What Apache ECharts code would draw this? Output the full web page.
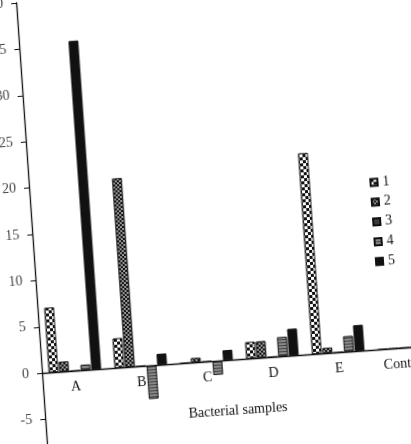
<!DOCTYPE html>
<html>
<head>
<meta charset="utf-8">
<script src="https://cdn.jsdelivr.net/npm/echarts@6/dist/echarts.min.js"></script>
<style>
html,body{margin:0;padding:0;width:411px;height:444px;overflow:hidden;background:#fff;}
#chart{position:absolute;left:-40px;top:-40px;width:520px;height:560px;
transform-origin:82px 413px;transform:rotate(-4deg);}
</style>
</head>
<body>
<div id="chart"></div>
<script>
const categories = ['A', 'B', 'C', 'D', 'E', 'Control'];
const seriesNames = ['1', '2', '3', '4', '5'];
const s1 = [7.0, 3.2, 0, 1.8, 21.7, 0];
const s2 = [1.1, 20.4, 0.5, 1.8, 0.6, 0];
const s3 = [0, 0, 0, 0, 0, 0];
const s4 = [0.6, -3.6, -1.5, 2.1, 1.7, 0];
const s5 = [35.5, 1.2, 1.1, 2.9, 2.8, 0];
const yMin = -10, yMax = 40, yStep = 5;
const axisTitle = 'Bacterial samples';

function pattern(size, draw) {
  const c = document.createElement('canvas');
  c.width = size; c.height = size;
  const g = c.getContext('2d');
  draw(g, size);
  return { image: c, repeat: 'repeat' };
}
const p1 = pattern(6, (g) => {
  g.fillStyle = '#fff'; g.fillRect(0, 0, 6, 6);
  g.fillStyle = '#111'; g.fillRect(0, 0, 3, 3); g.fillRect(3, 3, 3, 3);
});
const p2 = pattern(4, (g) => {
  g.fillStyle = '#999'; g.fillRect(0, 0, 4, 4);
  g.fillStyle = '#111'; g.fillRect(0, 0, 2, 2); g.fillRect(2, 2, 2, 2);
});
const p3 = pattern(2, (g) => {
  g.fillStyle = '#666'; g.fillRect(0, 0, 2, 2);
  g.fillStyle = '#111'; g.fillRect(0, 0, 1, 1); g.fillRect(1, 1, 1, 1);
});
const p4 = pattern(3, (g) => {
  g.fillStyle = '#888'; g.fillRect(0, 0, 3, 3);
  g.fillStyle = '#444'; g.fillRect(0, 0, 3, 1);
});
const fills = [p1, p2, p3, p4, '#111'];
const values = [s1, s2, s3, s4, s5];

const gridHeight = 464;
// move the category axis up from the grid bottom to the zero line
const zeroOffset = -((0 - yMin) / (yMax - yMin)) * gridHeight;

const font = 'Liberation Serif';
const chart = echarts.init(document.getElementById('chart'), null, { renderer: 'canvas' });
chart.setOption({
  animation: false,
  backgroundColor: '#fff',
  textStyle: { fontFamily: font },
  grid: { left: 82, top: 42, width: 396, height: gridHeight },
  legend: {
    orient: 'vertical',
    left: 417, top: 234,
    itemWidth: 7, itemHeight: 7, itemGap: 5.8,
    icon: 'rect',
    textStyle: { fontFamily: font, fontSize: 14, color: '#111', lineHeight: 14 },
    data: seriesNames
  },
  xAxis: {
    type: 'category',
    data: categories,
    position: 'bottom',
    offset: zeroOffset,
    axisLine: { onZero: false, lineStyle: { color: '#111', width: 1.3 } },
    axisTick: { show: false },
    axisLabel: { fontFamily: font, fontSize: 14, color: '#111', margin: 9 },
    name: axisTitle,
    nameLocation: 'middle',
    nameGap: 44,
    nameTextStyle: { fontFamily: font, fontSize: 14, color: '#111', padding: [0, 10, 0, 0] },
    splitLine: { show: false }
  },
  yAxis: {
    type: 'value',
    min: yMin, max: yMax, interval: yStep,
    axisLine: { show: true, lineStyle: { color: '#111', width: 1.3 } },
    axisTick: { show: true, length: 5, lineStyle: { color: '#111' } },
    axisLabel: { fontFamily: font, fontSize: 14, color: '#444', margin: 13 },
    splitLine: { show: false }
  },
  series: seriesNames.map((n, i) => ({
    name: n,
    type: 'bar',
    data: values[i],
    barCategoryGap: '20%',
    barGap: '8%',
    itemStyle: { color: fills[i], borderColor: '#111', borderWidth: 1 }
  }))
});
</script>
</body>
</html>
